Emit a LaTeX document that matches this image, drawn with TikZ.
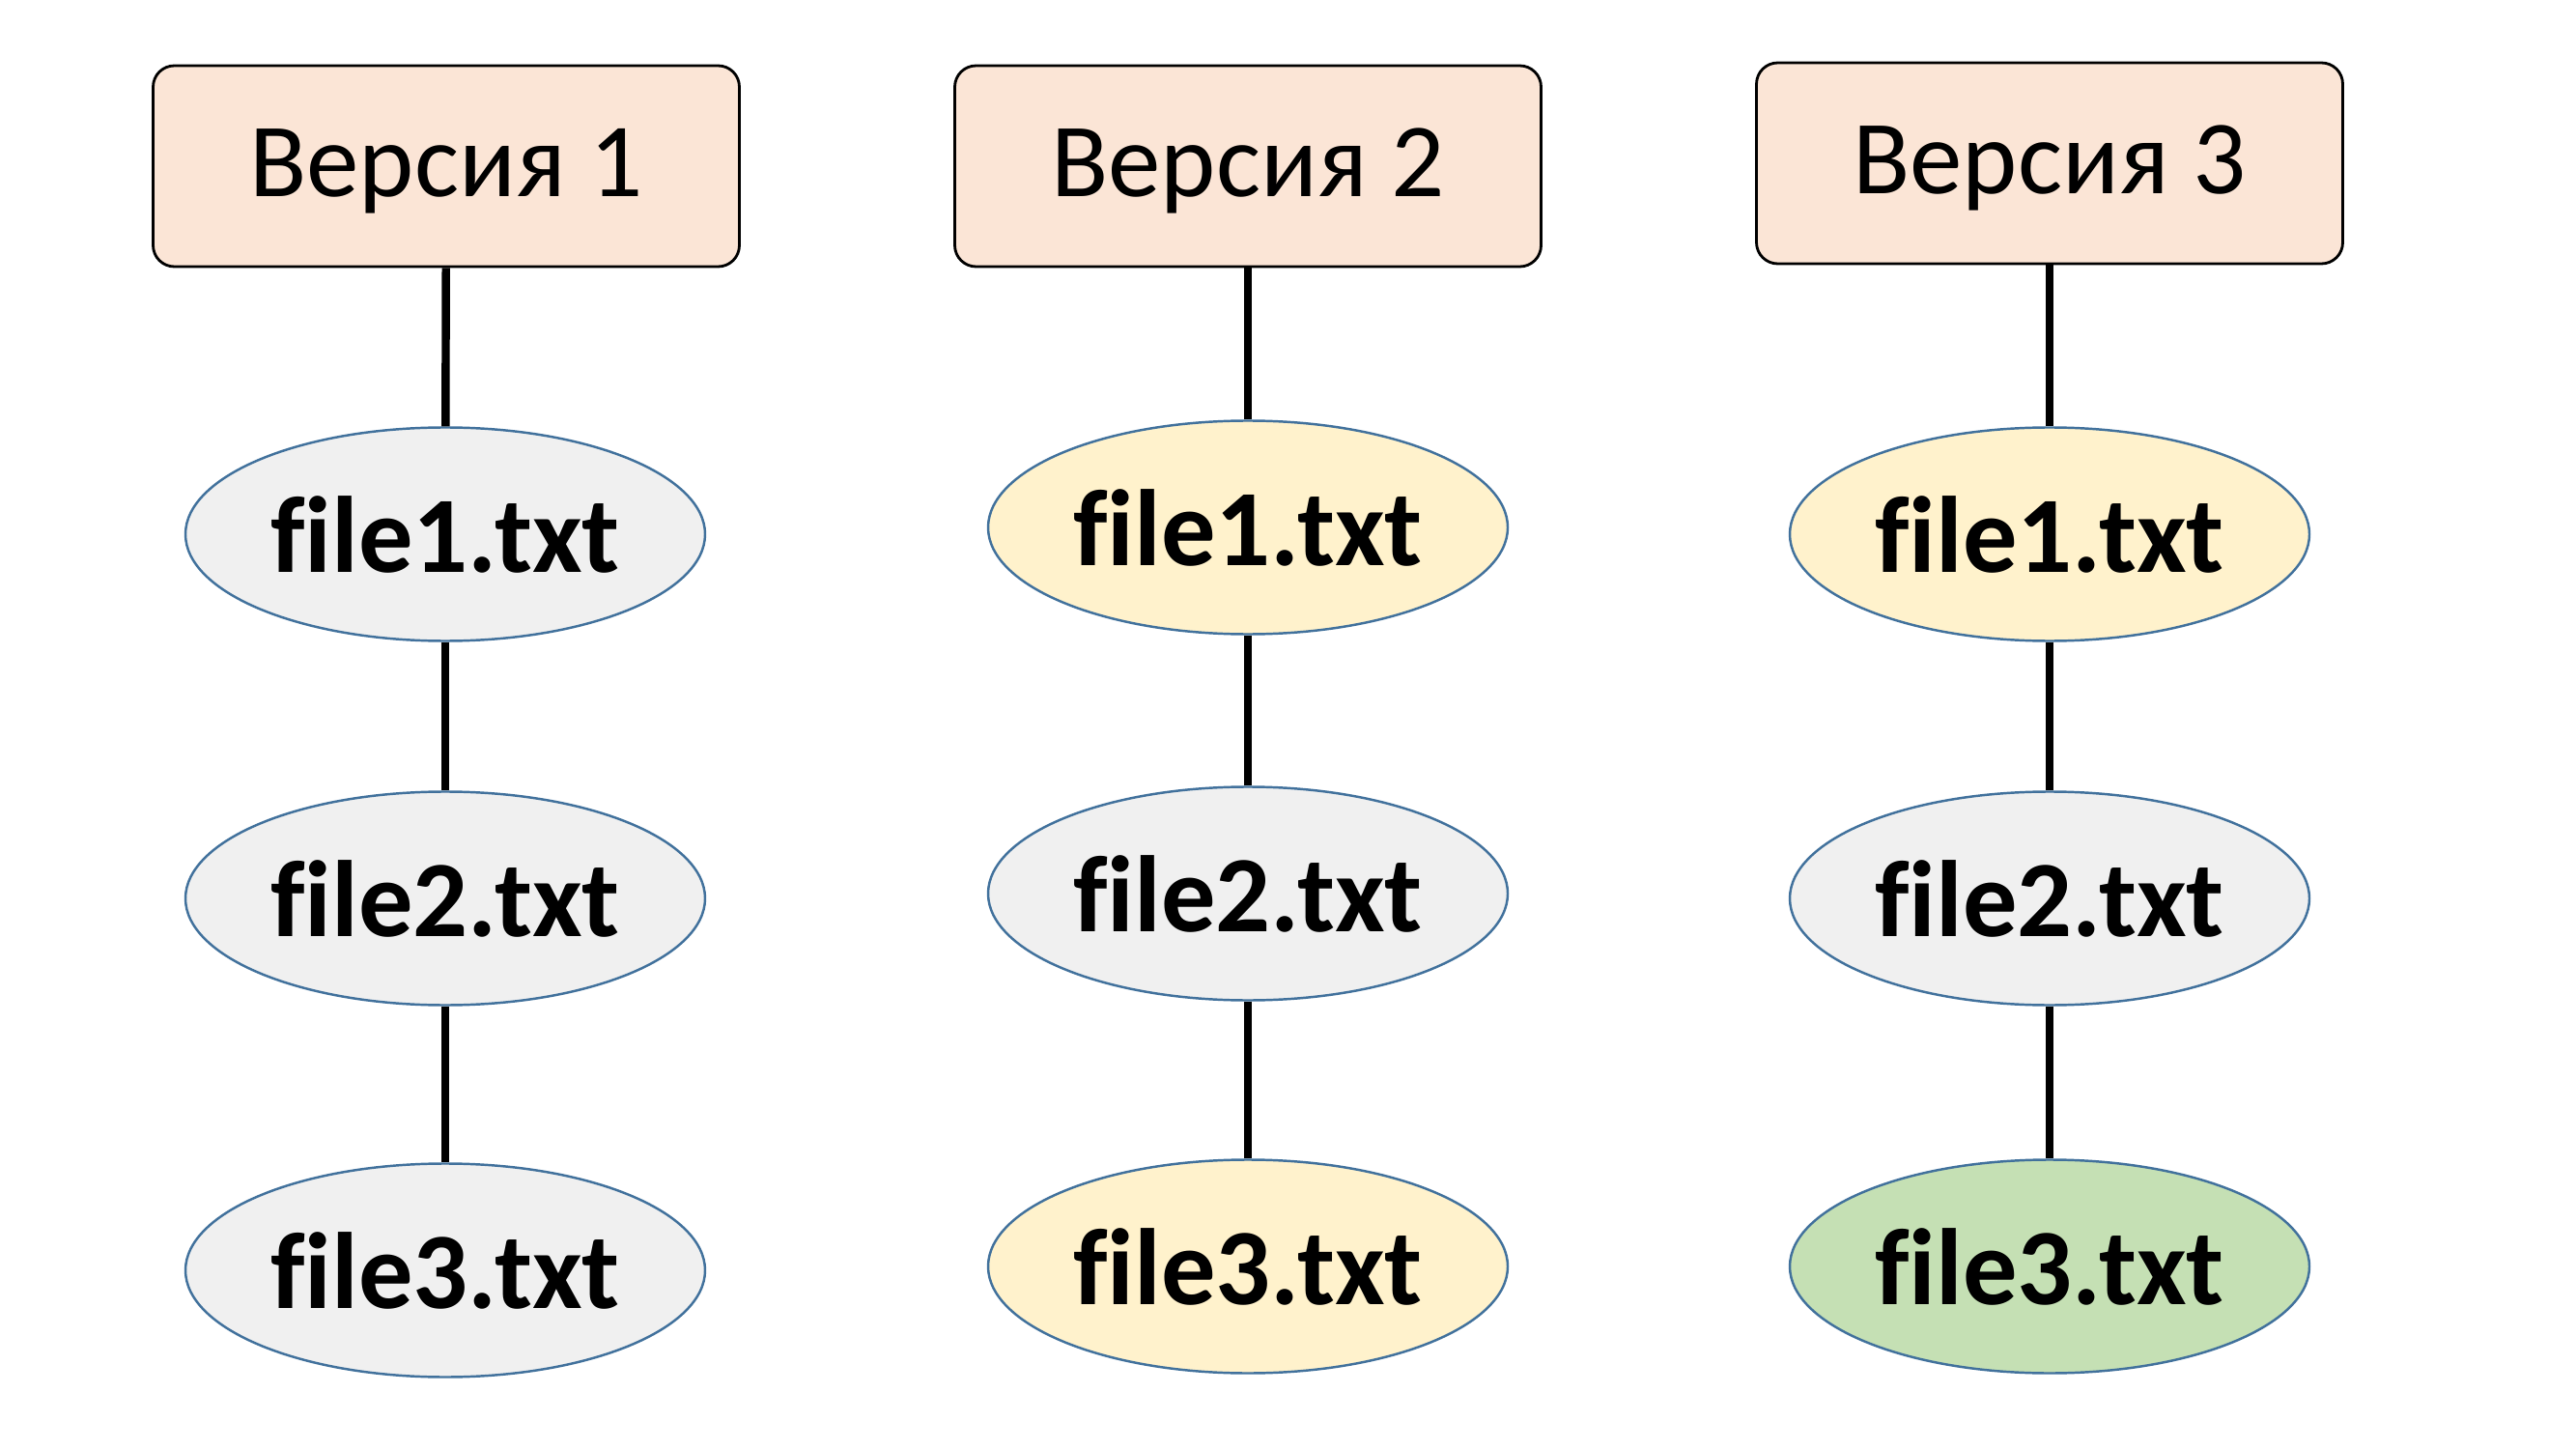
\documentclass[tikz,border=0pt]{standalone}
\usepackage{fontspec}
\setmainfont{Carlito}[Ligatures=NoCommon]
\usetikzlibrary{shapes.geometric}
\definecolor{verfill}{HTML}{FBE5D6}
\definecolor{grayfill}{HTML}{F0F0F0}
\definecolor{yellowfill}{HTML}{FFF2CC}
\definecolor{greenfill}{HTML}{C5E0B4}
\definecolor{fileborder}{HTML}{41719C}

\begin{document}
\begin{tikzpicture}[
	version/.style={draw=black, line width=0.8pt, rounded corners=0.22cm, fill=verfill,
		minimum width=6.07cm, minimum height=2.08cm, text height=24pt, text depth=6pt,
		font=\fontsize{31}{36}\selectfont},
	file/.style={ellipse, draw=fileborder, line width=0.7pt, inner sep=0pt,
		minimum width=5.38cm, minimum height=2.21cm, font=\bfseries\fontsize{32}{38}\selectfont},
	link/.style={line width=2.4pt}]
	\useasboundingbox (0,0) rectangle (26.67,15);

	% Version 1
	\node[version] (v1) at (4.62,13.28) {Версия 1};
	\node[file, fill=grayfill] (v1f1) at (4.61,9.47) {file1.txt};
	\node[file, fill=grayfill] (v1f2) at (4.61,5.70) {file2.txt};
	\node[file, fill=grayfill] (v1f3) at (4.61,1.85) {file3.txt};

	% Version 2
	\node[version] (v2) at (12.92,13.28) {Версия 2};
	\node[file, fill=yellowfill] (v2f1) at (12.92,9.54) {file1.txt};
	\node[file, fill=grayfill] (v2f2) at (12.92,5.75) {file2.txt};
	\node[file, fill=yellowfill] (v2f3) at (12.92,1.89) {file3.txt};

	% Version 3
	\node[version] (v3) at (21.22,13.31) {Версия 3};
	\node[file, fill=yellowfill] (v3f1) at (21.22,9.47) {file1.txt};
	\node[file, fill=grayfill] (v3f2) at (21.22,5.70) {file2.txt};
	\node[file, fill=greenfill] (v3f3) at (21.22,1.89) {file3.txt};

	% links
	\draw[link] (v1) -- (v1f1);
	\draw[link] (v1f1) -- (v1f2);
	\draw[link] (v1f2) -- (v1f3);
	\draw[link] (v2) -- (v2f1);
	\draw[link] (v2f1) -- (v2f2);
	\draw[link] (v2f2) -- (v2f3);
	\draw[link] (v3) -- (v3f1);
	\draw[link] (v3f1) -- (v3f2);
	\draw[link] (v3f2) -- (v3f3);
\end{tikzpicture}
\end{document}
